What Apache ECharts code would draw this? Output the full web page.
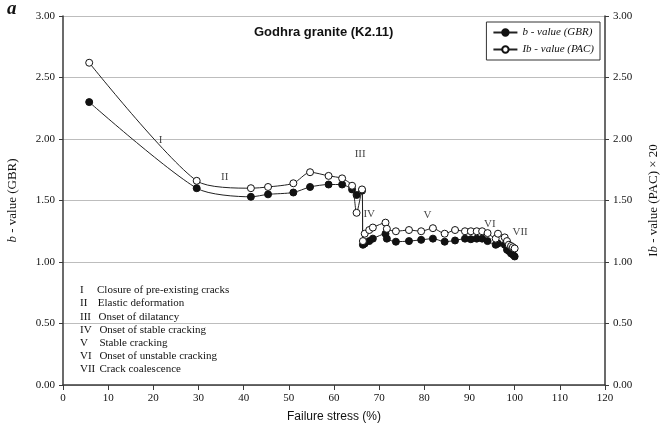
<!DOCTYPE html>
<html>
<head>
    <meta charset="utf-8">
    <title>Godhra granite (K2.11)</title>
    <style>
        html, body { margin: 0; padding: 0; background: #fff; }
        #chart { width: 662px; height: 432px; }
    </style>
</head>
<body>
    <div id="chart"></div>
    <script src="https://cdn.jsdelivr.net/npm/echarts@6/dist/echarts.min.js"></script>
    <script>
        // 破坏应力 (%)，两条曲线共用
        var stress = [5.8, 29.6, 41.6, 45.4, 51.0, 54.7, 58.8, 61.8, 64.0, 65.0, 66.2, 66.4, 66.8, 67.8, 68.6,
            71.4, 71.7, 73.7, 76.6, 79.3, 81.9, 84.5, 86.8, 89.0, 90.3, 91.6, 92.8, 94.0, 95.8, 96.3, 97.8,
            98.3, 98.7, 99.2, 99.6, 100.0];
        // b - value (GBR)  实心点
        var gbr = [2.30, 1.60, 1.53, 1.55, 1.565, 1.61, 1.63, 1.63, 1.59, 1.545, 1.58, 1.14, 1.15, 1.17, 1.19,
            1.23, 1.19, 1.165, 1.17, 1.18, 1.19, 1.165, 1.175, 1.19, 1.185, 1.19, 1.19, 1.17, 1.14, 1.15, 1.14,
            1.10, 1.09, 1.07, 1.06, 1.045];
        // Ib - value (PAC) x 20  空心点
        var pac = [2.62, 1.66, 1.60, 1.61, 1.64, 1.73, 1.70, 1.68, 1.62, 1.40, 1.59, 1.17, 1.23, 1.26, 1.28,
            1.32, 1.27, 1.25, 1.26, 1.25, 1.275, 1.23, 1.26, 1.25, 1.25, 1.25, 1.25, 1.235, 1.19, 1.23, 1.20,
            1.17, 1.14, 1.13, 1.12, 1.11];
        // 阶段编号在图中的位置 [stress, value]
        var phaseMarks = [['I', 21.6, 1.99], ['II', 35.8, 1.69], ['III', 65.8, 1.88], ['IV', 67.8, 1.39],
            ['V', 80.7, 1.38], ['VI', 94.5, 1.31], ['VII', 101.2, 1.24]];
        var phaseNames = ['Closure of pre-existing cracks', 'Elastic deformation', 'Onset of dilatancy',
            'Onset of stable cracking', 'Stable cracking', 'Onset of unstable cracking', 'Crack coalescence'];
        var romans = ['I', 'II', 'III', 'IV', 'V', 'VI', 'VII'];

        var serif = 'Liberation Serif';
        var sans = 'Liberation Sans';

        function pairs(ys) {
            return stress.map(function (x, i) { return [x, ys[i]]; });
        }

        // 左下角阶段说明文字
        var graphics = [{
            type: 'text', left: 7, top: 0,
            style: { text: 'a', font: 'italic bold 19px ' + serif, fill: '#111' }
        }];
        romans.forEach(function (r, i) {
            var y = 285 + i * 13.1;
            graphics.push({ type: 'text', left: 80, top: y, z: 10,
                style: { text: r, font: '11px ' + serif, fill: '#111' } });
            graphics.push({ type: 'text', left: 97 + Math.min(i, 3) * 0.8, top: y, z: 10,
                style: { text: phaseNames[i], font: '11px ' + serif, fill: '#111' } });
        });

        var axisLine = { show: true, lineStyle: { color: '#3a3a3a', width: 1.5 } };
        var tickLabel = { fontFamily: serif, fontSize: 11, color: '#111' };

        var chart = echarts.init(document.getElementById('chart'));
        chart.setOption({
            animation: false,
            backgroundColor: '#fff',
            title: {
                text: 'Godhra granite (K2.11)',
                left: 249, top: 21,
                textStyle: { fontFamily: sans, fontSize: 13, fontWeight: 'bold', color: '#111' }
            },
            legend: {
                orient: 'vertical',
                right: 62, top: 22,
                padding: [5, 6, 5, 6],
                itemGap: 6,
                itemWidth: 24, itemHeight: 8,
                borderColor: '#333', borderWidth: 1,
                backgroundColor: '#fff',
                textStyle: { fontFamily: serif, fontStyle: 'italic', fontSize: 11, color: '#111' },
                data: ['b - value (GBR)', 'Ib - value (PAC)']
            },
            grid: { left: 63, right: 57, top: 16, bottom: 47, outerBoundsMode: 'none', containLabel: false },
            xAxis: {
                type: 'value', min: 0, max: 120, interval: 10,
                name: 'Failure stress (%)', nameLocation: 'middle', nameGap: 26,
                nameTextStyle: { fontFamily: sans, fontSize: 12, color: '#111' },
                axisLine: axisLine,
                axisTick: { show: true, length: 5, lineStyle: { color: '#3a3a3a' } },
                axisLabel: tickLabel,
                splitLine: { show: false }
            },
            yAxis: [{
                type: 'value', min: 0, max: 3, interval: 0.5, position: 'left',
                name: '{i|b} - value (GBR)', nameLocation: 'middle', nameGap: 44, nameRotate: 90,
                nameTextStyle: { fontFamily: serif, fontSize: 13, color: '#111',
                    rich: { i: { fontFamily: serif, fontSize: 13, fontStyle: 'italic', color: '#111' } } },
                axisLine: axisLine,
                axisTick: { show: true, length: 4, lineStyle: { color: '#3a3a3a' } },
                axisLabel: Object.assign({ formatter: function (v) { return v.toFixed(2); } }, tickLabel),
                splitLine: { show: true, lineStyle: { color: '#bdbdbd', width: 1 } }
            }, {
                type: 'value', min: 0, max: 3, interval: 0.5, position: 'right',
                name: 'I{i|b} - value (PAC) × 20', nameLocation: 'middle', nameGap: 42, nameRotate: 90,
                nameTextStyle: { fontFamily: serif, fontSize: 13, color: '#111',
                    rich: { i: { fontFamily: serif, fontSize: 13, fontStyle: 'italic', color: '#111' } } },
                axisLine: axisLine,
                axisTick: { show: true, length: 4, lineStyle: { color: '#3a3a3a' } },
                axisLabel: Object.assign({ formatter: function (v) { return v.toFixed(2); } }, tickLabel),
                splitLine: { show: false }
            }],
            graphic: graphics,
            series: [{
                name: 'b - value (GBR)',
                type: 'line',
                data: pairs(gbr),
                smooth: 0.25,
                symbol: 'circle', symbolSize: 7,
                lineStyle: { color: '#222', width: 1 },
                itemStyle: { color: '#111', borderColor: '#111', borderWidth: 1 },
                z: 3
            }, {
                name: 'Ib - value (PAC)',
                type: 'line',
                data: pairs(pac),
                smooth: 0.25,
                symbol: 'circle', symbolSize: 7,
                lineStyle: { color: '#222', width: 1 },
                itemStyle: { color: '#fff', borderColor: '#111', borderWidth: 1 },
                z: 4
            }, {
                // 阶段编号
                type: 'scatter',
                data: phaseMarks.map(function (p) { return { name: p[0], value: [p[1], p[2]] }; }),
                symbolSize: 0,
                silent: true,
                label: {
                    show: true, position: 'inside', formatter: '{b}',
                    fontFamily: serif, fontSize: 11, color: '#111'
                },
                z: 5
            }]
        });
    </script>
</body>
</html>
